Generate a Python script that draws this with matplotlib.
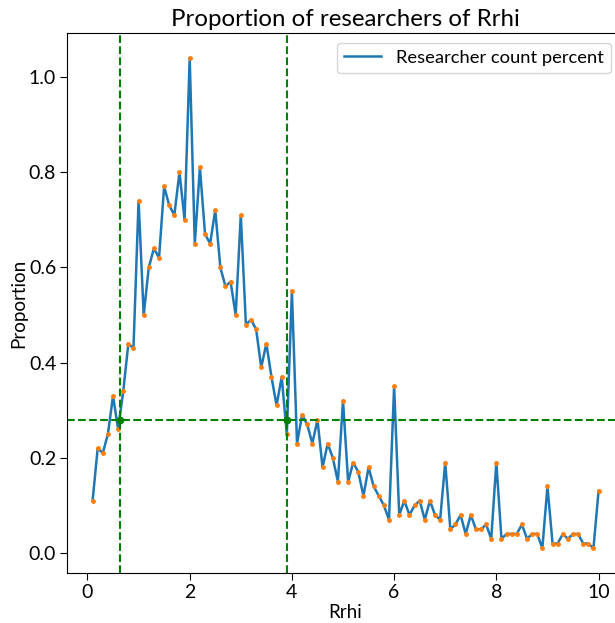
"""Proportion of researchers by Rrhi value."""

import numpy as np
import matplotlib
matplotlib.use("Agg")
import matplotlib.pyplot as plt

plt.rcParams['font.family'] = ['Lato', 'DejaVu Sans']

# Rrhi bins (0.1 steps) and share of researchers in each bin
rrhi = np.round(np.arange(1, 101) * 0.1, 1)
proportion = [
    0.11, 0.22, 0.21, 0.25, 0.33, 0.26, 0.34, 0.44, 0.43, 0.74,
    0.50, 0.60, 0.64, 0.62, 0.77, 0.73, 0.71, 0.80, 0.70, 1.04,
    0.65, 0.81, 0.67, 0.65, 0.72, 0.60, 0.56, 0.57, 0.50, 0.71,
    0.48, 0.49, 0.47, 0.39, 0.44, 0.37, 0.31, 0.37, 0.25, 0.55,
    0.23, 0.29, 0.27, 0.23, 0.28, 0.18, 0.23, 0.20, 0.15, 0.32,
    0.15, 0.19, 0.17, 0.12, 0.18, 0.14, 0.12, 0.10, 0.07, 0.35,
    0.08, 0.11, 0.08, 0.10, 0.11, 0.07, 0.11, 0.08, 0.07, 0.19,
    0.05, 0.06, 0.08, 0.04, 0.08, 0.05, 0.05, 0.06, 0.03, 0.19,
    0.03, 0.04, 0.04, 0.04, 0.06, 0.03, 0.04, 0.04, 0.01, 0.14,
    0.02, 0.02, 0.04, 0.03, 0.04, 0.04, 0.02, 0.02, 0.01, 0.13,
]

# cut-off lines
lower_rrhi = 0.64
upper_rrhi = 3.9
threshold = 0.28

fig = plt.figure(figsize=(6.15, 6.23), dpi=100)
ax = fig.add_axes([0.1094, 0.0806, 0.905, 0.8658])

ax.plot(rrhi, proportion, color='tab:blue', lw=1.8, label='Researcher count percent')
ax.plot(rrhi, proportion, '.', color='tab:orange', markersize=5)

ax.axvline(lower_rrhi, color='green', ls='--', lw=1.5)
ax.axvline(upper_rrhi, color='green', ls='--', lw=1.5)
ax.axhline(threshold, color='green', ls='--', lw=1.5)
ax.plot([lower_rrhi, upper_rrhi], [threshold, threshold], 'o', color='green', markersize=4.5)

ax.set_title('Proportion of researchers of Rrhi', fontsize=17.3, pad=5)
ax.set_xlabel('Rrhi', fontsize=13.5, labelpad=2)
ax.set_ylabel('Proportion', fontsize=13.5, labelpad=1)
ax.tick_params(labelsize=14, length=5, pad=3)
ax.set_xticks([0, 2, 4, 6, 8, 10])
ax.set_yticks([0.0, 0.2, 0.4, 0.6, 0.8, 1.0])
ax.set_xlim(-0.395, 10.495)
ax.set_ylim(-0.0415, 1.0915)
ax.legend(loc='upper right', fontsize=13.2, bbox_to_anchor=(0.993, 1.0))

fig.savefig('out.png', dpi=100)
